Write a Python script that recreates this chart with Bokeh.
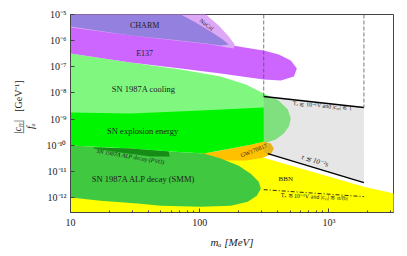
import numpy as np
from bokeh.plotting import figure
from bokeh.layouts import row
from bokeh.models import Label, FixedTicker, Range1d
from bokeh.core.properties import value
from bokeh.embed import file_html
from bokeh.resources import INLINE

# ---------------- data ----------------
# mass in MeV, coupling |c_gg|/f_a in GeV^-1
bbn_mass = [10, 34.9, 85.1, 111.4, 133, 208, 313, 607, 1866, 3200, 3200, 10]
bbn_coupling = [1.0e-12, 5.9e-13, 1.19e-12, 1.67e-11, 4.04e-11, 6.27e-11, 3.38e-11,
                1.29e-11, 2.63e-12, 1.42e-12, 1e-13, 1e-13]

cooling_mass = [10, 29.2, 71.3, 145.5, 227.5, 313, 409, 481, 507, 490, 448, 388, 313, 102, 10]
cooling_coupling = [3.22e-7, 1.46e-7, 7.87e-8, 4.25e-8, 2.10e-8, 9.51e-9, 5.13e-9, 2.32e-9,
                    1.05e-9, 5.19e-10, 2.81e-10, 1.65e-10, 1.16e-10, 3.65e-10, 3.65e-10]

explosion_mass = [10, 29.2, 101.9, 313, 313, 248.5, 173.8, 107.4, 59.6, 29.2, 10]
explosion_coupling = [1.78e-9, 1.63e-9, 2.12e-9, 2.77e-9, 1.39e-10, 1.06e-10, 7.48e-11,
                      4.81e-11, 5.74e-11, 7.48e-11, 9.73e-11]

smm_mass = [10, 29.2, 59.6, 107.4, 145.5, 200.4, 248.5, 286.4, 297.2, 276.8, 235.5, 173.8,
            101.9, 49.9, 34.9, 17.1, 10]
smm_coupling = [9.73e-11, 7.48e-11, 5.74e-11, 4.81e-11, 3.10e-11, 1.67e-11, 8.26e-12,
                4.08e-12, 2.20e-12, 1.19e-12, 7.02e-13, 4.93e-13, 4.52e-13, 4.93e-13,
                5.89e-13, 7.66e-13, 1.0e-12]

pvo_mass = [15.1, 29.2, 57.5, 58.5, 41.7, 24.4, 15.1]
pvo_coupling = [8.17e-11, 7.48e-11, 5.74e-11, 3.70e-11, 3.70e-11, 5.26e-11, 7.48e-11]

gw_mass = [101.9, 133, 173.8, 248.5, 313, 354.8, 374.8, 354.8, 307.6, 227.5, 159, 121.6]
gw_coupling = [4.81e-11, 5.74e-11, 7.48e-11, 1.06e-10, 1.39e-10, 1.16e-10, 7.48e-11,
               4.41e-11, 3.38e-11, 2.60e-11, 2.60e-11, 3.38e-11]

e137_mass = [10, 111.4, 150.7, 180.3, 248.5, 313, 409, 507, 565, 536, 425, 313, 145.5, 71.3, 29.2, 10]
e137_coupling = [1e-5, 1e-5, 2.44e-6, 6.52e-7, 5.00e-7, 4.20e-7, 2.95e-7, 1.74e-7, 8.59e-8,
                 4.25e-8, 2.99e-8, 3.26e-8, 5.53e-8, 8.59e-8, 1.46e-7, 3.22e-7]

nucal_mass = [10, 111.4, 140.3, 167.9, 186.6, 183.7, 161.9, 121.6, 29.2, 10]
nucal_coupling = [1e-5, 1e-5, 3.79e-6, 1.44e-6, 7.11e-7, 5.00e-7, 5.47e-7, 7.11e-7, 1.57e-6, 3.18e-6]

charm_mass = [10, 71.3, 93.1, 121.6, 150.7, 167.9, 145.5, 111.4, 59.6, 29.2, 10]
charm_coupling = [1e-5, 1e-5, 4.94e-6, 2.24e-6, 1.11e-6, 7.11e-7, 6.52e-7, 7.78e-7, 1.11e-6,
                  1.57e-6, 3.47e-6]

grey_mass = [313, 1866, 1866, 313]
grey_coupling = [7.29e-9, 2.77e-9, 3.74e-12, 5.35e-11]

upper_line_mass = [313, 1866]
upper_line_coupling = [7.29e-9, 2.77e-9]
lower_line_mass = [336.5, 1866]
lower_line_coupling = [4.81e-11, 3.74e-12]
dashdot_mass = [313, 1866]
dashdot_coupling = [2.02e-12, 1.09e-12]
dashed_left_mass = [313, 313]
dashed_left_coupling = [1e-5, 7.29e-9]
dashed_right_mass = [1866, 1866]
dashed_right_coupling = [1e-5, 2.77e-9]

x_ticks = [10, 100, 1000]
x_tick_labels = ["10", "100", "10³"]
x_minor = [20, 30, 40, 50, 60, 70, 80, 90, 200, 300, 400, 500, 600, 700, 800, 900, 2000, 3000]
y_ticks = [1e-12, 1e-11, 1e-10, 1e-9, 1e-8, 1e-7, 1e-6, 1e-5]
y_tick_labels = ["10⁻¹²", "10⁻¹¹", "10⁻¹⁰", "10⁻⁹", "10⁻⁸", "10⁻⁷", "10⁻⁶", "10⁻⁵"]

ylabel_parts = ["|cᵧᵧ|", "───", "fₐ", "[GeV⁻¹]"]

# ---------------- main figure ----------------
FONT = "Liberation Serif"
p = figure(width=363, height=250, x_axis_type="log", y_axis_type="log",
           x_range=Range1d(10, 3162), y_range=Range1d(2.7e-13, 1e-5),
           output_backend="svg", toolbar_location=None,
           min_border_left=30, min_border_right=10, min_border_top=14, min_border_bottom=38)
p.grid.visible = False
p.outline_line_color = "#444444"

p.patch(bbn_mass, bbn_coupling, fill_color="#FFFF00", line_color=None)
p.patch(cooling_mass, cooling_coupling, fill_color="#80F880", line_color=None)
p.patch(gw_mass, gw_coupling, fill_color="#FFC000", line_color=None)
p.patch(smm_mass, smm_coupling, fill_color="#40C840", line_color=None)
p.patch(explosion_mass, explosion_coupling, fill_color="#00F500", line_color=None)
p.patch(pvo_mass, pvo_coupling, fill_color="#168C16", line_color=None)
p.patch(e137_mass, e137_coupling, fill_color="#CC66FF", line_color=None)
p.patch(nucal_mass, nucal_coupling, fill_color="#DDA8F5", line_color=None)
p.patch(charm_mass, charm_coupling, fill_color="#9480DE", line_color=None)
p.patch(grey_mass, grey_coupling, fill_color="#808080", fill_alpha=0.2, line_color=None)

p.line(upper_line_mass, upper_line_coupling, line_color="black", line_width=1.5)
p.line(lower_line_mass, lower_line_coupling, line_color="black", line_width=1.5)
p.line(dashed_left_mass, dashed_left_coupling, line_color="#555555", line_width=0.8, line_dash="4 2")
p.line(dashed_right_mass, dashed_right_coupling, line_color="#555555", line_width=0.8, line_dash="4 2")
p.line(dashdot_mass, dashdot_coupling, line_color="black", line_width=0.8, line_dash="4 2 1 2")

# ---------------- axes ----------------
p.xaxis.ticker = FixedTicker(ticks=x_ticks, minor_ticks=x_minor)
p.yaxis.ticker = FixedTicker(ticks=y_ticks, minor_ticks=[])
p.xaxis.major_label_overrides = {t: s for t, s in zip(x_ticks, x_tick_labels)}
p.yaxis.major_label_overrides = {t: s for t, s in zip(y_ticks, y_tick_labels)}
for ax in (p.xaxis[0], p.yaxis[0]):
    ax.major_tick_in = 4
    ax.major_tick_out = 0
    ax.minor_tick_in = 2
    ax.minor_tick_out = 0
    ax.axis_line_color = "#444444"
    ax.major_tick_line_color = "#444444"
    ax.minor_tick_line_color = "#444444"
    ax.major_label_text_font = FONT
    ax.major_label_text_font_size = "10px"
    ax.major_label_text_color = "#222222"
p.yaxis.major_label_standoff = 4
p.xaxis.major_label_standoff = 4
p.xaxis.axis_label = "mₐ [MeV]"
p.xaxis.axis_label_text_font = FONT
p.xaxis.axis_label_text_font_style = "italic"
p.xaxis.axis_label_text_font_size = "11px"
p.xaxis.axis_label_text_color = "#222222"
p.xaxis.axis_label_standoff = 5


def lab(x, y, text, size="8px", angle=0.0, style="normal", font=FONT, color="#222222"):
    p.add_layout(Label(x=x, y=y, text=text, text_font=font, text_font_size=size,
                       text_font_style=style, angle=angle, text_color=color,
                       text_align="center", text_baseline="middle"))


lab(37.5, 3.8e-6, "CHARM", "8px")
lab(113, 4.1e-6, "NuCal", "6px", angle=-0.65)
lab(37.5, 3.22e-7, "E137", "8px")
lab(36.8, 1.48e-8, "SN 1987A cooling", "8.5px")
lab(36.2, 3.65e-10, "SN explosion energy", "8.5px")
lab(29.2, 3.7e-11, "SN 1987A ALP decay (PVO)", "6px", angle=-0.17, style="italic")
lab(36.8, 5.3e-12, "SN 1987A ALP decay (SMM)", "8.5px")
lab(262, 6.3e-11, "GW170817", "6px", angle=0.38)
lab(464, 5.3e-12, "BBN", "7px")
lab(766, 2.6e-11, "τ ≲ 10⁻²s", "7px", angle=-0.30, style="italic")
lab(883, 3.3e-9, "Tₑ ≲ 10⁻¹V and |cᵧᵧ| ≲ 1", "6px", angle=-0.09)
lab(766, 1.09e-12, "Tₑ ≲ 10⁻¹V and |cᵧᵧ| ≲ α/8π", "6px", angle=-0.05)

# ---------------- y-axis label panel (fraction) ----------------
q = figure(width=40, height=250, x_range=Range1d(0, 40), y_range=Range1d(0, 250),
           output_backend="svg", toolbar_location=None,
           x_axis_location=None, y_axis_location=None,
           min_border_left=0, min_border_right=0, min_border_top=0, min_border_bottom=0)
q.grid.visible = False
q.outline_line_color = None
q.text(x=[16.5], y=[108], text=[ylabel_parts[0]], angle=np.pi / 2, text_font=value(FONT),
       text_font_size="10px", text_font_style="italic", text_color="#222222",
       text_align="center", text_baseline="middle")
q.text(x=[23], y=[108], text=[ylabel_parts[1]], angle=np.pi / 2, text_font=value("DejaVu Sans"),
       text_font_size="7px", text_color="#222222", text_align="center", text_baseline="middle")
q.text(x=[30], y=[109], text=[ylabel_parts[2]], angle=np.pi / 2, text_font=value(FONT),
       text_font_size="10px", text_font_style="italic", text_color="#222222",
       text_align="center", text_baseline="middle")
q.text(x=[17.5], y=[147], text=[ylabel_parts[3]], angle=np.pi / 2, text_font=value(FONT),
       text_font_size="10px", text_color="#222222", text_align="center", text_baseline="middle")

layout = row(q, p)
open("out.html", "w").write(file_html(layout, INLINE))
